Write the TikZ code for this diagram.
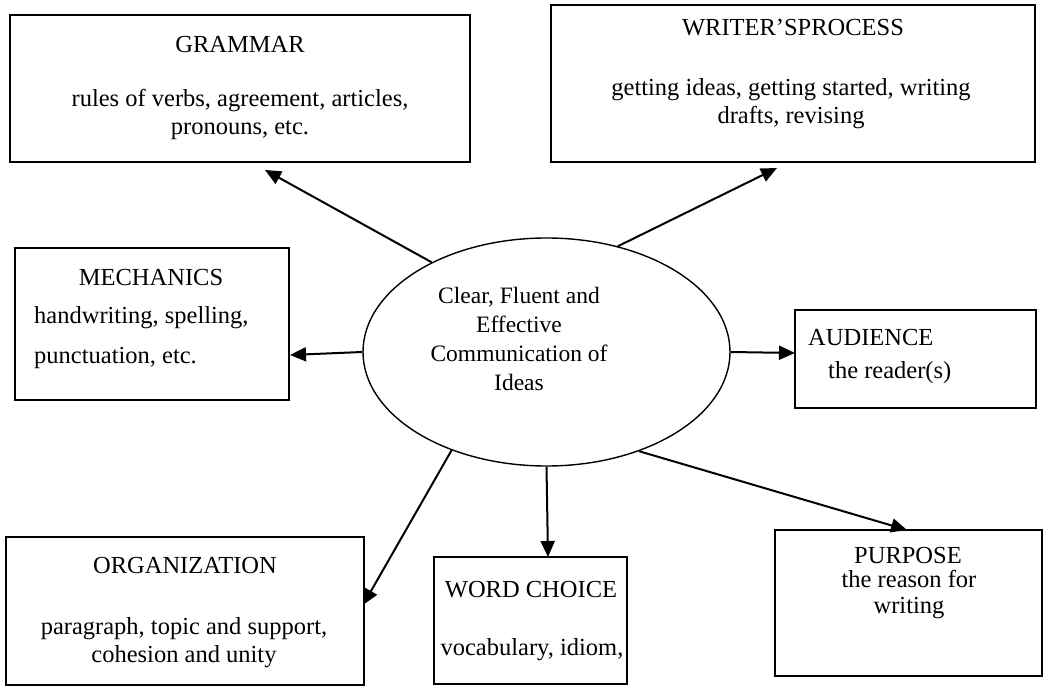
\documentclass[tikz,border=0pt]{standalone}
\usepackage{fontspec}
\setmainfont{Liberation Serif}
\usetikzlibrary{shapes.geometric,arrows.meta}
\begin{document}
\begin{tikzpicture}[x=1pt,y=-1pt,
  box/.style={draw,line width=1.6pt,inner sep=0pt},
  txt/.style={inner sep=0pt,font=\fontsize{24.5}{28}\selectfont,align=center},
  arr/.style={line width=2pt,-{Triangle[length=16pt,width=14pt]}}]
\useasboundingbox (0,0) rectangle (1052,687);
% boxes
\node[box,minimum width=460pt,minimum height=147pt] (gram) at (240,88.5) {};
\node[box,minimum width=484pt,minimum height=157pt] (writ) at (793,83.5) {};
\node[box,minimum width=274pt,minimum height=152pt] (mech) at (152,324) {};
\node[box,minimum width=241pt,minimum height=98pt] (aud) at (915.5,359) {};
\node[box,minimum width=358pt,minimum height=148pt] (org) at (185,611) {};
\node[box,minimum width=193pt,minimum height=127pt] (word) at (530.5,620.5) {};
\node[box,minimum width=267pt,minimum height=146pt] (purp) at (908.5,603) {};
\node[draw,ellipse,line width=1.4pt,inner sep=0pt,minimum width=367pt,minimum height=228pt] (ell) at (546.5,352) {};
% texts
\node[txt] (gramt) at (240,45) {GRAMMAR};
\node[txt] (gramb) at (240,114) {rules of verbs, agreement, articles,\\pronouns, etc.};
\node[txt] (writt) at (793,28) {WRITER’SPROCESS};
\node[txt] (writb) at (791,104) {getting ideas, getting started, writing\\drafts, revising};
\node[txt] (mecht) at (151,278) {MECHANICS};
\node[txt,anchor=west] (mechb1) at (34,318) {handwriting, spelling,};
\node[txt,anchor=west] (mechb2) at (34,358) {punctuation, etc.};
\node[txt,font=\fontsize{23.5}{28.7}\selectfont] (ellt) at (519,339) {Clear, Fluent and\\Effective\\Communication of\\Ideas};
\node[txt,anchor=west] (audt) at (808,338) {AUDIENCE};
\node[txt,anchor=west] (audb) at (828,373) {the reader(s)};
\node[txt] (orgt) at (185,566) {ORGANIZATION};
\node[txt] (orgb) at (184,643) {paragraph, topic and support,\\cohesion and unity};
\node[txt] (wordt) at (531,590) {WORD CHOICE};
\node[txt] (wordb) at (532,650) {vocabulary, idiom,};
\node[txt] (purpt) at (908,556) {PURPOSE};
\node[txt,font=\fontsize{24.5}{25.5}\selectfont] (purpb) at (909,594.5) {the reason for\\writing};
% arrow tips
\coordinate (tgram) at (265,170);
\coordinate (twrit) at (777,168);
\coordinate (tmech) at (290,355);
\coordinate (taud) at (795,353);
\coordinate (torg) at (363,605);
\coordinate (tword) at (548,557);
\coordinate (tpurp) at (907,530);
% connectors
\draw[arr] (ell.142.5) -- (tgram);
\draw[arr] (ell.56.1) -- (twrit);
\draw[arr] (ell.180) -- (tmech);
\draw[arr] (ell.0) -- (taud);
\draw[arr] (ell.226.7) -- (torg);
\draw[arr] (ell.270.5) -- (tword);
\draw[arr] (ell.313.6) -- (tpurp);
\end{tikzpicture}
\end{document}
